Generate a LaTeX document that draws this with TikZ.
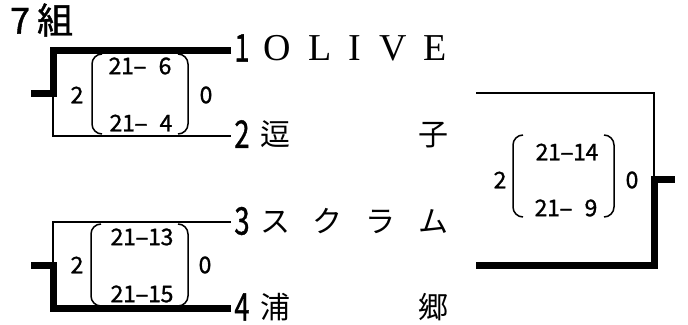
\documentclass[tikz,border=0pt]{standalone}
\usepackage{fontspec}
\usepackage{graphicx}
\setmainfont{Noto Sans CJK JP}
\newfontfamily\latinserif{Liberation Serif}
\newfontfamily\gothicb[FakeBold=1.2]{Noto Sans CJK JP}
\newcommand\sd[1]{\makebox[12.5pt]{#1}}
\newcommand\sdash{\makebox[12.5pt]{\scalebox{1.8}[1]{-}}}
\newcommand\narrowdigit[1]{\scalebox{0.72}[1]{#1}}
\tikzset{
  wline/.style={line width=7pt},
  nline/.style={line width=2pt},
  parenline/.style={line width=1.5pt, rounded corners=10pt},
  rownum/.style={font=\gothicb\fontsize{38}{40}\selectfont, inner sep=0pt},
  namebox/.style={font=\fontsize{30}{34}\selectfont, inner sep=0pt, anchor=west},
  scoretext/.style={font=\gothicb\fontsize{23}{26}\selectfont, inner sep=0pt},
  titletext/.style={font=\gothicb\fontsize{36}{40}\selectfont, inner sep=0pt, anchor=west}
}
\begin{document}
\begin{tikzpicture}[x=1pt,y=-1pt]
\useasboundingbox (0,0) rectangle (688,324);
% title
\node[titletext] (title) at (10,20) {7\hspace{7pt}組};
% line end coordinates
\coordinate (e1) at (231,50);
\coordinate (e2) at (231,136);
\coordinate (e3) at (231,222);
\coordinate (e4) at (231,308);
\coordinate (c1) at (53,50);
\coordinate (c2) at (53,136);
\coordinate (c3) at (53,222);
\coordinate (c4) at (53,308);
\coordinate (m1) at (53,93);
\coordinate (m2) at (53,265);
\coordinate (o1) at (31,93);
\coordinate (o2) at (31,265);
% right bracket
\coordinate (rt0) at (476,92.5);
\coordinate (rt1) at (654,92.5);
\coordinate (rb0) at (476,265.5);
\coordinate (rb1) at (654,265.5);
\coordinate (rm) at (654,179);
\coordinate (ro) at (675,179);
% bracket 1: winner 1
\draw[wline] (e1) -- (c1) -- (m1) -- (o1);
\draw[nline] (m1) -- (c2) -- (e2);
% bracket 2: winner 4
\draw[wline] (e4) -- (c4) -- (m2) -- (o2);
\draw[nline] (m2) -- (c3) -- (e3);
% right bracket: winner bottom
\draw[nline] (rt0) -- (rt1) -- (rm);
\draw[wline] (rb0) -- (rb1) -- (rm) -- (ro);
% row numbers
\node[rownum] (d1) at (242,48) {\narrowdigit{1}};
\node[rownum] (d2) at (242,134) {\narrowdigit{2}};
\node[rownum] (d3) at (242,221) {\narrowdigit{3}};
\node[rownum] (d4) at (242,307) {\narrowdigit{4}};
% names
\node[namebox] (n1) at (263,48) {\hbox to 184pt{\latinserif\fontsize{38}{40}\selectfont O\hfill L\hfill I\hfill V\hfill E}};
\node[namebox] (n2) at (260,134) {\hbox to 188pt{逗\hfill 子}};
\node[namebox] (n3) at (260,221) {\hbox to 188pt{ス\hfill ク\hfill ラ\hfill ム}};
\node[namebox] (n4) at (260,307) {\hbox to 188pt{浦\hfill 郷}};
% score bracket 1
\draw[parenline] (102,54) -- (92,54) -- (92,134) -- (102,134);
\draw[parenline] (178,54) -- (188,54) -- (188,134) -- (178,134);
\node[scoretext] (s1l) at (77,95) {2};
\node[scoretext] (s1r) at (206,95) {0};
\node[scoretext] (s1a) at (140,66) {\sd{2}\sd{1}\sdash\sd{\ }\sd{6}};
\node[scoretext] (s1b) at (141,123) {\sd{2}\sd{1}\sdash\sd{\ }\sd{4}};
% score bracket 2
\draw[parenline] (101,224) -- (91,224) -- (91,306) -- (101,306);
\draw[parenline] (178,224) -- (188,224) -- (188,306) -- (178,306);
\node[scoretext] (s2l) at (77,265) {2};
\node[scoretext] (s2r) at (205,265) {0};
\node[scoretext] (s2a) at (142,237) {\sd{2}\sd{1}\sdash\sd{1}\sd{3}};
\node[scoretext] (s2b) at (142,294) {\sd{2}\sd{1}\sdash\sd{1}\sd{5}};
% score right bracket
\draw[parenline] (523,135) -- (513,135) -- (513,217) -- (523,217);
\draw[parenline] (604,135) -- (614,135) -- (614,217) -- (604,217);
\node[scoretext] (s3l) at (500,180) {2};
\node[scoretext] (s3r) at (632,180) {0};
\node[scoretext] (s3a) at (567,152) {\sd{2}\sd{1}\sdash\sd{1}\sd{4}};
\node[scoretext] (s3b) at (566,208) {\sd{2}\sd{1}\sdash\sd{\ }\sd{9}};
\end{tikzpicture}
\end{document}
